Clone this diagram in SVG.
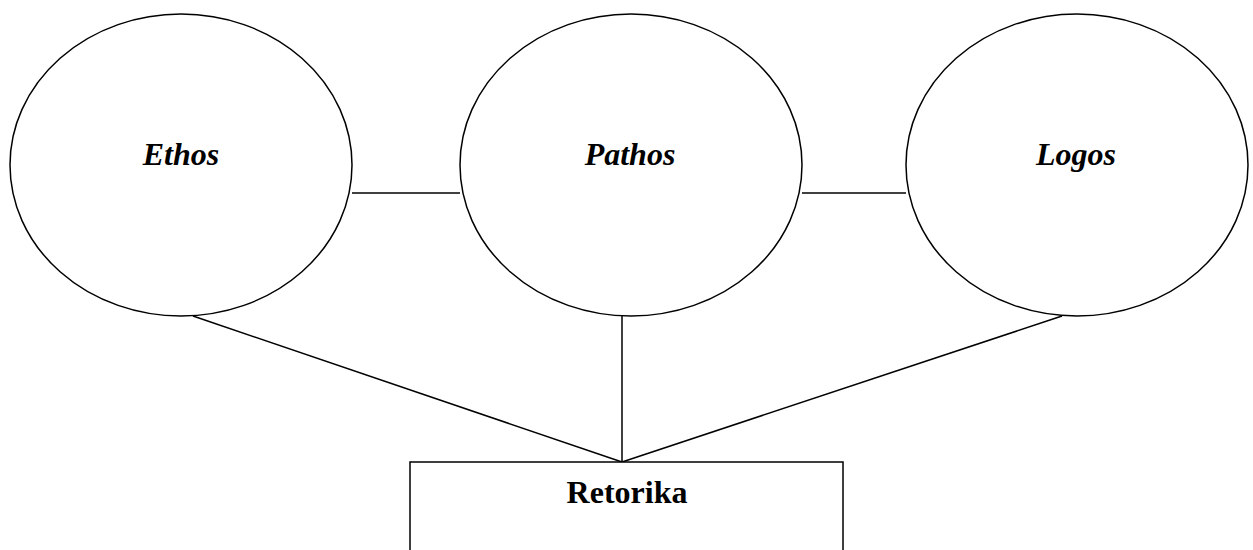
<svg xmlns="http://www.w3.org/2000/svg" width="1253" height="550" viewBox="0 0 1253 550">
<style>
.shape{fill:#fff;stroke:#000;stroke-width:1.5}
.conn{stroke:#000;stroke-width:1.5;fill:none}
.lbl{font-family:"Liberation Serif","Times New Roman",serif;font-size:32px;font-weight:bold;text-anchor:middle;fill:#000}
.it{font-style:italic}
</style>
<rect width="1253" height="550" fill="#fff"/>
<g id="connectors">
<line class="conn" x1="352" y1="193" x2="460" y2="193"/>
<line class="conn" x1="802" y1="193" x2="906" y2="193"/>
<line class="conn" x1="193" y1="316" x2="622" y2="462"/>
<line class="conn" x1="622" y1="316" x2="622" y2="462"/>
<line class="conn" x1="1062" y1="316" x2="622" y2="462"/>
</g>
<g id="ethos">
<ellipse class="shape" cx="181" cy="165" rx="171" ry="151"/>
<text class="lbl it" x="181" y="165">Ethos</text>
</g>
<g id="pathos">
<ellipse class="shape" cx="631" cy="165" rx="171" ry="151"/>
<text class="lbl it" x="630" y="165">Pathos</text>
</g>
<g id="logos">
<ellipse class="shape" cx="1077" cy="165" rx="171" ry="151"/>
<text class="lbl it" x="1076" y="165">Logos</text>
</g>
<g id="retorika">
<rect class="shape" x="410" y="462" width="433" height="100"/>
<text class="lbl" x="627" y="503">Retorika</text>
</g>
</svg>
